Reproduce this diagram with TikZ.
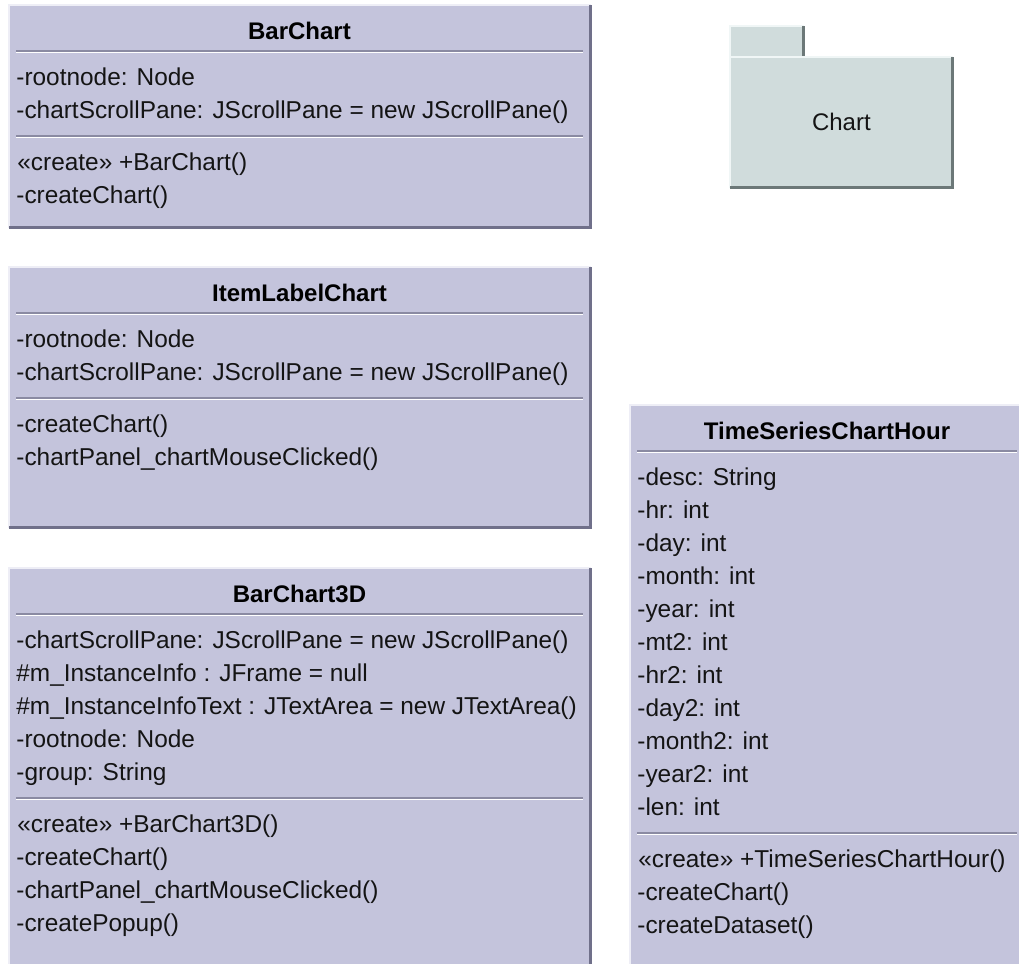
\documentclass[tikz,border=0pt]{standalone}
\usepackage{fontspec}
\setmainfont{Liberation Sans}
\usepackage{tikz}
\usetikzlibrary{positioning}
\usepackage{xcolor}
\definecolor{umlFill}{HTML}{C4C4DC}
\definecolor{umlDark}{HTML}{70708A}
\definecolor{umlLight}{HTML}{EEEEF6}
\definecolor{umlRule}{HTML}{8A8AA2}
\definecolor{pkgFill}{HTML}{D0DCDC}
\definecolor{pkgDark}{HTML}{6C7878}
\definecolor{pkgLight}{HTML}{F0F6F6}
\definecolor{umlText}{HTML}{141414}

\begin{document}
\begin{tikzpicture}[x=0.5pt,y=-0.5pt,
      font=\fontsize{12}{14}\selectfont,
      classbox/.style={fill=umlFill,inner sep=0pt,anchor=north west},
      pkgbox/.style={fill=pkgFill,inner sep=0pt,anchor=north west},
      lightedge/.style={draw=umlLight,line width=1pt},
      darkedge/.style={draw=umlDark,line width=1.5pt},
      pkglight/.style={draw=pkgLight,line width=1pt},
      pkgdark/.style={draw=pkgDark,line width=1.5pt},
      sep/.style={draw=umlRule,line width=1pt,
                  postaction={draw=white,line width=0.5pt,transform canvas={yshift=-0.9pt}}},
      cname/.style={font=\fontsize{12}{14}\selectfont\bfseries,inner sep=0pt,anchor=base},
      member/.style={font=\fontsize{12.2}{14}\selectfont,anchor=base west,inner sep=0pt,text=umlText}]
    \useasboundingbox (0,0) rectangle (1019,964);
    \clip (0,0) rectangle (1019,964);
    \fill[white] (0,0) rectangle (1019,964);
    % BarChart
    \node[classbox,minimum width=290.5pt,minimum height=111pt] (bc) at (9,5) {};
    \draw[lightedge] (bc.south west) -- (bc.north west) -- (bc.north east);
    \draw[darkedge] (bc.south west) -- (bc.south east) -- (bc.north east);
    \node[cname] (bc-t) at (299.5,39) {BarChart};
    \draw[sep] (16,51) -- (583,51);
    \node[member] (bc-a1) at (16,85)  {-rootnode: Node};
    \node[member] (bc-a2) at (16,118) {-chartScrollPane: JScrollPane = new JScrollPane()};
    \draw[sep] (16,136) -- (583,136);
    \node[member] (bc-m1) at (17,170) {«create» +BarChart()};
    \node[member] (bc-m2) at (16,203) {-createChart()};
    % ItemLabelChart
    \node[classbox,minimum width=290.5pt,minimum height=130pt] (ilc) at (9,267) {};
    \draw[lightedge] (ilc.south west) -- (ilc.north west) -- (ilc.north east);
    \draw[darkedge] (ilc.south west) -- (ilc.south east) -- (ilc.north east);
    \node[cname] (ilc-t) at (299.5,301) {ItemLabelChart};
    \draw[sep] (16,313) -- (583,313);
    \node[member] (ilc-a1) at (16,347) {-rootnode: Node};
    \node[member] (ilc-a2) at (16,380) {-chartScrollPane: JScrollPane = new JScrollPane()};
    \draw[sep] (16,398) -- (583,398);
    \node[member] (ilc-m1) at (16,432) {-createChart()};
    \node[member] (ilc-m2) at (16,465) {-chartPanel\_chartMouseClicked()};
    % BarChart3D
    \node[classbox,minimum width=290.5pt,minimum height=215pt] (bc3) at (9,568) {};
    \draw[lightedge] (bc3.south west) -- (bc3.north west) -- (bc3.north east);
    \draw[darkedge] (bc3.south west) -- (bc3.south east) -- (bc3.north east);
    \node[cname] (bc3-t) at (299.5,602) {BarChart3D};
    \draw[sep] (16,614) -- (583,614);
    \node[member] (bc3-a1) at (16,648) {-chartScrollPane: JScrollPane = new JScrollPane()};
    \node[member] (bc3-a2) at (16,681) {\#m\_InstanceInfo : JFrame = null};
    \node[member] (bc3-a3) at (16,714) {\#m\_InstanceInfoText : JTextArea = new JTextArea()};
    \node[member] (bc3-a4) at (16,747) {-rootnode: Node};
    \node[member] (bc3-a5) at (16,780) {-group: String};
    \draw[sep] (16,798) -- (583,798);
    \node[member] (bc3-m1) at (17,832) {«create» +BarChart3D()};
    \node[member] (bc3-m2) at (16,865) {-createChart()};
    \node[member] (bc3-m3) at (16,898) {-chartPanel\_chartMouseClicked()};
    \node[member] (bc3-m4) at (16,931) {-createPopup()};
    % TimeSeriesChartHour
    \node[classbox,minimum width=197pt,minimum height=290pt] (tsh) at (630,405) {};
    \draw[lightedge] (tsh.south west) -- (tsh.north west) -- (tsh.north east);
    \draw[darkedge] (tsh.south west) -- (tsh.south east) -- (tsh.north east);
    \node[cname] (tsh-t) at (827,439) {TimeSeriesChartHour};
    \draw[sep] (637,451) -- (1017,451);
    \node[member] (tsh-a1)  at (637,485) {-desc: String};
    \node[member] (tsh-a2)  at (637,518) {-hr: int};
    \node[member] (tsh-a3)  at (637,551) {-day: int};
    \node[member] (tsh-a4)  at (637,584) {-month: int};
    \node[member] (tsh-a5)  at (637,617) {-year: int};
    \node[member] (tsh-a6)  at (637,650) {-mt2: int};
    \node[member] (tsh-a7)  at (637,683) {-hr2: int};
    \node[member] (tsh-a8)  at (637,716) {-day2: int};
    \node[member] (tsh-a9)  at (637,749) {-month2: int};
    \node[member] (tsh-a10) at (637,782) {-year2: int};
    \node[member] (tsh-a11) at (637,815) {-len: int};
    \draw[sep] (637,833) -- (1017,833);
    \node[member] (tsh-m1) at (638,867) {«create» +TimeSeriesChartHour()};
    \node[member] (tsh-m2) at (637,900) {-createChart()};
    \node[member] (tsh-m3) at (637,933) {-createDataset()};
    % Chart package
    \node[pkgbox,minimum width=36.5pt,minimum height=15.5pt] (pkgtab) at (730,26) {};
    \draw[pkglight] (pkgtab.south west) -- (pkgtab.north west) -- (pkgtab.north east);
    \draw[pkgdark] (pkgtab.north east) -- (pkgtab.south east);
    \node[pkgbox,minimum width=111pt,minimum height=65pt] (pkg) at (730,57) {};
    \draw[pkglight] (pkg.south west) -- (pkg.north west) -- (pkg.north east);
    \draw[pkgdark] (pkg.south west) -- (pkg.south east) -- (pkg.north east);
    \node[inner sep=0pt,text=umlText] (pkg-t) at (pkg.center) {Chart};
\end{tikzpicture}
\end{document}
